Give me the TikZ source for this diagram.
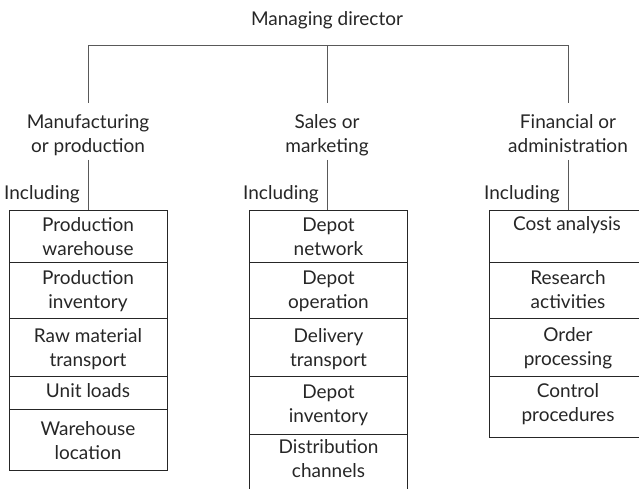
\documentclass[tikz,border=0pt]{standalone}
\usepackage{fontspec}
\setmainfont{Lato}
\begin{document}
\begin{tikzpicture}[x=1pt,y=-1pt,
  txt/.style={font=\fontsize{19}{24}\selectfont, text=black!85, inner sep=0pt, align=center},
  tl/.style={txt, anchor=north},
  box/.style={draw=black!85, line width=0.8pt, minimum width=158pt, inner sep=0pt, anchor=north west},
  boxline/.style={draw=black!85, line width=0.8pt},
  link/.style={draw=black!65, line width=0.8pt}]
\useasboundingbox (0,0) rectangle (639,489);
% top
\node[txt, anchor=base] (md) at (327,26) {Managing director};
\node[tl] (h1) at (88,111.2) {\strut Manufacturing\\or production};
\node[tl] (h2) at (327,111.2) {\strut Sales or\\marketing};
\node[tl] (h3) at (568,111.2) {\strut Financial or\\administration};
\coordinate (t1) at (88,103);
\coordinate (t2) at (327,103);
\coordinate (t3) at (568,103);
\coordinate (j1) at (88,45);
\coordinate (j2) at (327,45);
\coordinate (j3) at (568,45);
\draw[link] (t1) -- (j1) -- (j3) -- (t3);
\draw[link] (t2) -- (j2);
% left column boxes
\node[box, minimum height=52pt] (a1) at (9,210) {};
\node[box, minimum height=56pt] (a2) at (9,262) {};
\node[box, minimum height=58pt] (a3) at (9,318) {};
\node[box, minimum height=33pt] (a4) at (9,376) {};
\node[box, minimum height=61pt] (a5) at (9,409) {};
% middle column boxes
\node[box, minimum height=52pt] (b1) at (249,210) {};
\node[box, minimum height=56pt] (b2) at (249,262) {};
\node[box, minimum height=58pt] (b3) at (249,318) {};
\node[box, minimum height=58pt] (b4) at (249,376) {};
\node[box, minimum height=60pt] (b5) at (249,434) {};
% right column boxes (running off the right edge)
\coordinate (c1) at (489,210);
\coordinate (c2) at (489,262);
\coordinate (c3) at (489,318);
\coordinate (c4) at (489,376);
\coordinate (c5) at (489,437);
\draw[boxline] (c1 -| 639,0) -- (c1) -- (c5) -- (c5 -| 639,0);
\draw[boxline] (c2) -- (c2 -| 639,0);
\draw[boxline] (c3) -- (c3 -| 639,0);
\draw[boxline] (c4) -- (c4 -| 639,0);
% box texts
\node[tl] (ta1) at (88,214.2) {\strut Production\\warehouse};
\node[tl] (ta2) at (88,267.2) {\strut Production\\inventory};
\node[tl] (ta3) at (88,325.2) {\strut Raw material\\transport};
\node[tl] (ta4) at (88,380.2) {\strut Unit loads};
\node[tl] (ta5) at (88,418.2) {\strut Warehouse\\location};
\node[tl] (tb1) at (328.5,214.2) {\strut Depot\\network};
\node[tl] (tb2) at (328.5,267.2) {\strut Depot\\operation};
\node[tl] (tb3) at (328.5,325.2) {\strut Delivery\\transport};
\node[tl] (tb4) at (328.5,381.2) {\strut Depot\\inventory};
\node[tl] (tb5) at (328.5,436.2) {\strut Distribution\\channels};
\node[tl] (tc1) at (567,213.2) {\strut Cost analysis};
\node[tl] (tc2) at (568,267.2) {\strut Research\\activities};
\node[tl] (tc3) at (568,324.2) {\strut Order\\processing};
\node[tl] (tc4) at (568,380.2) {\strut Control\\procedures};
% links head -> boxes
\coordinate (u1) at (88,160);
\coordinate (u2) at (327,160);
\coordinate (u3) at (568,160);
\draw[link] (u1) -- (u1 |- a1.north);
\draw[link] (u2) -- (u2 |- b1.north);
\draw[link] (u3) -- (u3 |- c1);
% Including labels
\node[txt, anchor=base east] (i1) at (80,199) {Including};
\node[txt, anchor=base east] (i2) at (319,199) {Including};
\node[txt, anchor=base east] (i3) at (560,199) {Including};
\end{tikzpicture}
\end{document}
